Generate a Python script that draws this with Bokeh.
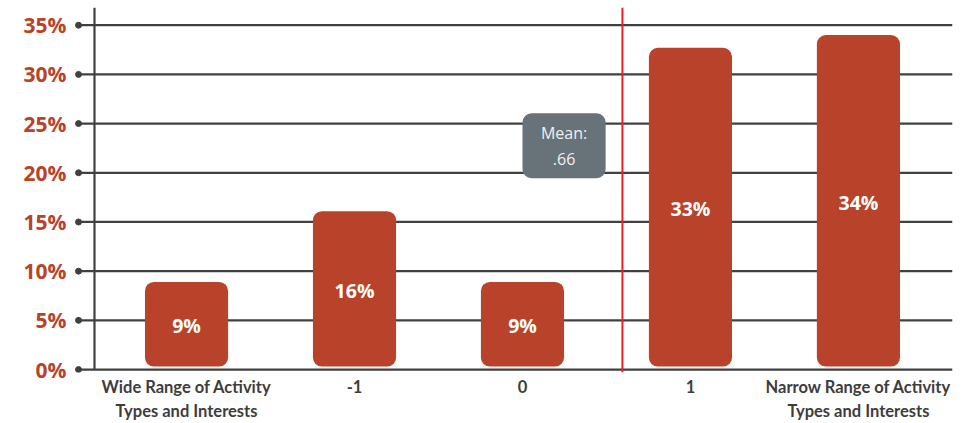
from bokeh.plotting import figure
from bokeh.models import (ColumnDataSource, Range1d, FixedTicker,
                          PrintfTickFormatter, Span, LabelSet, Label)
from bokeh.core.properties import value
from bokeh.embed import file_html
from bokeh.resources import INLINE

# ---- data ----
categories = ["Wide Range of Activity\nTypes and Interests", "-1", "0", "1",
              "Narrow Range of Activity\nTypes and Interests"]
shares = [8.9, 16.1, 8.9, 32.7, 34.0]          # percent
bar_labels = ["9%", "16%", "9%", "33%", "34%"]
mean_text = "Mean:\n.66"
y_ticks = [0, 5, 10, 15, 20, 25, 30, 35]

# ---- layout constants ----
BAR_COLOR = "#b8432a"
GRID_COLOR = "#404040"
MEAN_LINE_X = 2.595
X_START, X_END = -0.667, 4.56
Y_START, Y_TOP = -0.3, 36.8
AXIS_X = -0.548
DOT_X = -0.643

idx = list(range(len(categories)))
src = ColumnDataSource(dict(x=idx, top=shares, mid=[s / 2 for s in shares], lab=bar_labels))

p = figure(width=964, height=423, output_backend="svg", toolbar_location=None,
           x_range=Range1d(X_START, X_END), y_range=Range1d(Y_START, Y_TOP),
           min_border_left=74, min_border_right=12, min_border_top=7, min_border_bottom=49)
p.outline_line_color = None
p.background_fill_color = "white"

# vertical axis line (ends at 0%)
p.segment(x0=[AXIS_X], y0=[0], x1=[AXIS_X], y1=[Y_TOP], line_color=GRID_COLOR, line_width=2.2)

# grid
p.xgrid.visible = False
p.ygrid.visible = False
p.segment(x0=[DOT_X] * len(y_ticks), y0=y_ticks, x1=[X_END] * len(y_ticks), y1=y_ticks,
          line_color=GRID_COLOR, line_width=2.2)

# y axis
p.yaxis.ticker = FixedTicker(ticks=y_ticks)
p.yaxis.formatter = PrintfTickFormatter(format="%d%%")
p.yaxis.axis_line_color = None
p.yaxis.major_tick_line_color = None
p.yaxis.minor_tick_line_color = None
p.yaxis.major_tick_out = 0
p.yaxis.major_tick_in = 0
p.yaxis.major_label_standoff = 8
p.yaxis.major_label_text_font = "Open Sans"
p.yaxis.major_label_text_font_style = "bold"
p.yaxis.major_label_text_font_size = "21px"
p.yaxis.major_label_text_color = BAR_COLOR

# x axis
p.xaxis.ticker = FixedTicker(ticks=idx)
p.xaxis.major_label_overrides = {i: c for i, c in zip(idx, categories)}
p.xaxis.axis_line_color = None
p.xaxis.major_tick_line_color = None
p.xaxis.minor_tick_line_color = None
p.xaxis.major_tick_out = 0
p.xaxis.major_tick_in = 0
p.xaxis.major_label_standoff = 4
p.xaxis.major_label_text_font = "Lato"
p.xaxis.major_label_text_font_style = "bold"
p.xaxis.major_label_text_font_size = "16.5px"
p.xaxis.major_label_text_color = "#3d3d3d"

# tick dots at left end of gridlines
p.scatter(x=[DOT_X] * len(y_ticks), y=y_ticks, size=6, color=GRID_COLOR)

# bars
p.vbar(x="x", top="top", bottom=0.3, width=0.495, source=src, fill_color=BAR_COLOR,
       line_color=None, border_radius=9)

p.add_layout(LabelSet(x="x", y="mid", text="lab", source=src, text_align="center",
                      text_baseline="middle", text_color="white", text_font=value("Open Sans"),
                      text_font_style="bold", text_font_size="19.5px"))

# mean line
p.add_layout(Span(location=MEAN_LINE_X, dimension="height", line_color="#e8202a", line_width=2))

# mean box
p.quad(left=[2.0], right=[2.495], bottom=[19.45], top=[26.05], fill_color="#687379",
       line_color=None, border_radius=9)
p.add_layout(Label(x=2.2475, y=22.75, text=mean_text, text_align="center",
                   text_baseline="middle", text_color="#eef0f1", text_font="Open Sans",
                   text_font_size="16px", text_line_height=1.2))

open("out.html", "w").write(file_html(p, INLINE))
